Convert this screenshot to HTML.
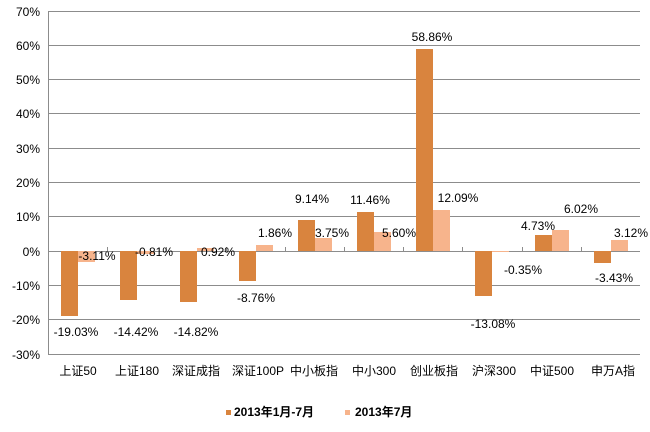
<!DOCTYPE html>
<html><head><meta charset="utf-8"><style>
html,body{margin:0;padding:0;background:#fff;}
svg text{font-family:"Liberation Sans","Noto Sans CJK SC",sans-serif;font-size:12px;fill:#000;}
</style></head><body>
<svg width="650" height="427" xmlns="http://www.w3.org/2000/svg">
<g stroke="#8c8c8c" stroke-width="1">
<line x1="48" y1="11.5" x2="640" y2="11.5"/>
<line x1="48" y1="45.5" x2="640" y2="45.5"/>
<line x1="48" y1="79.5" x2="640" y2="79.5"/>
<line x1="48" y1="113.5" x2="640" y2="113.5"/>
<line x1="48" y1="148.5" x2="640" y2="148.5"/>
<line x1="48" y1="182.5" x2="640" y2="182.5"/>
<line x1="48" y1="216.5" x2="640" y2="216.5"/>
<line x1="48" y1="285.5" x2="640" y2="285.5"/>
<line x1="48" y1="319.5" x2="640" y2="319.5"/>
<line x1="48" y1="354.5" x2="640" y2="354.5"/>
<line x1="48.5" y1="11" x2="48.5" y2="354"/>
<line x1="48" y1="251.5" x2="640" y2="251.5"/>
</g>
<g stroke="#8c8c8c">
<line x1="107.5" y1="247" x2="107.5" y2="251"/><line x1="166.5" y1="247" x2="166.5" y2="251"/>
<line x1="226.5" y1="247" x2="226.5" y2="251"/><line x1="285.5" y1="247" x2="285.5" y2="251"/>
<line x1="344.5" y1="247" x2="344.5" y2="251"/><line x1="403.5" y1="247" x2="403.5" y2="251"/>
<line x1="462.5" y1="247" x2="462.5" y2="251"/><line x1="522.5" y1="247" x2="522.5" y2="251"/>
<line x1="581.5" y1="247" x2="581.5" y2="251"/>
</g>
<g text-anchor="end">
<text x="40" y="16">70%</text><text x="40" y="50">60%</text><text x="40" y="84">50%</text>
<text x="40" y="118">40%</text><text x="40" y="153">30%</text><text x="40" y="187">20%</text>
<text x="40" y="221">10%</text><text x="40" y="256">0%</text><text x="40" y="290">-10%</text>
<text x="40" y="324">-20%</text><text x="40" y="359">-30%</text>
</g>
<g fill="#d9843e">
<rect x="61" y="251" width="17" height="65"/>
<rect x="120" y="251" width="17" height="49"/>
<rect x="180" y="251" width="17" height="51"/>
<rect x="239" y="251" width="17" height="30"/>
<rect x="298" y="220" width="17" height="31"/>
<rect x="357" y="212" width="17" height="39"/>
<rect x="416" y="49" width="17" height="202"/>
<rect x="475" y="251" width="17" height="45"/>
<rect x="535" y="235" width="17" height="16"/>
<rect x="594" y="251" width="17" height="12"/>
</g>
<g fill="#f7b48c">
<rect x="78" y="251" width="17" height="11"/>
<rect x="137" y="251" width="17" height="3"/>
<rect x="197" y="248" width="17" height="3"/>
<rect x="256" y="245" width="17" height="6"/>
<rect x="315" y="238" width="17" height="13"/>
<rect x="374" y="232" width="17" height="19"/>
<rect x="433" y="210" width="17" height="41"/>
<rect x="492" y="251" width="17" height="1"/>
<rect x="552" y="230" width="17" height="21"/>
<rect x="611" y="240" width="17" height="11"/>
</g>
<g text-anchor="middle">
<text x="76" y="336">-19.03%</text><text x="97" y="260">-3.11%</text>
<text x="136" y="336">-14.42%</text><text x="154" y="256">-0.81%</text>
<text x="196" y="336">-14.82%</text><text x="218" y="256">0.92%</text>
<text x="256" y="302">-8.76%</text><text x="275" y="237">1.86%</text>
<text x="312" y="203">9.14%</text><text x="332" y="237">3.75%</text>
<text x="370" y="204">11.46%</text><text x="399" y="237">5.60%</text>
<text x="432" y="41">58.86%</text><text x="458" y="202">12.09%</text>
<text x="493" y="328">-13.08%</text><text x="523" y="274">-0.35%</text>
<text x="538" y="230">4.73%</text><text x="581" y="213">6.02%</text>
<text x="614" y="282">-3.43%</text><text x="631" y="237">3.12%</text>
</g>
<g text-anchor="middle">
<text x="78" y="375">上证50</text><text x="137" y="375">上证180</text>
<text x="196" y="375">深证成指</text><text x="258" y="375">深证100P</text>
<text x="314" y="375">中小板指</text><text x="374" y="375">中小300</text>
<text x="434" y="375">创业板指</text><text x="494" y="375">沪深300</text>
<text x="552" y="375">中证500</text><text x="613" y="375">申万A指</text>
</g>
<rect x="226" y="410" width="5" height="5" fill="#d9843e"/>
<text x="234" y="416" font-weight="bold">2013年1月-7月</text>
<rect x="345" y="410" width="5" height="5" fill="#f7b48c"/>
<text x="355" y="416" font-weight="bold">2013年7月</text>
</svg>
</body></html>
